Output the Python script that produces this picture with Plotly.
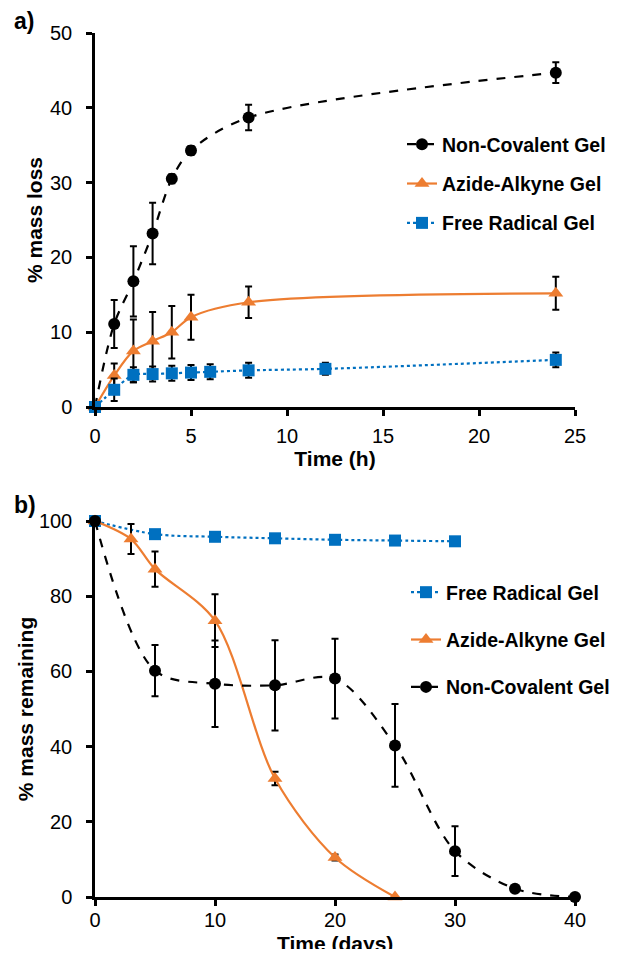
import plotly.graph_objects as go
from plotly.subplots import make_subplots

# ---- Panel a) % mass loss vs time (h)
t_h_nc = [0, 1, 2, 3, 4, 5, 8, 24]
nc_loss = [0, 11.1, 16.8, 23.2, 30.5, 34.3, 38.7, 44.7]
nc_loss_err = [None, 3.2, 4.7, 4.1, 0.6, 0.6, 1.7, 1.4]

t_h_aa = [0, 1, 2, 3, 4, 5, 8, 24]
aa_loss = [0, 4.2, 7.5, 8.8, 10.0, 12.0, 14.0, 15.2]
aa_loss_err = [None, 1.6, 4.2, 3.9, 3.5, 3.0, 2.1, 2.2]

t_h_fr = [0, 1, 2, 3, 4, 5, 6, 8, 12, 24]
fr_loss = [0, 2.3, 4.3, 4.4, 4.5, 4.6, 4.7, 4.9, 5.1, 6.3]
fr_loss_err = [None, 1.5, 1.0, 1.0, 1.0, 1.0, 1.0, 1.0, 0.8, 1.0]

# ---- Panel b) % mass remaining vs time (days)
t_d_fr = [0, 5, 10, 15, 20, 25, 30]
fr_rem = [100, 96.5, 95.8, 95.4, 95.0, 94.8, 94.6]

t_d_aa = [0, 3, 5, 10, 15, 20, 25]
aa_rem = [100, 95.2, 87.2, 73.5, 31.5, 10.5, 0]
aa_rem_err = [None, 4.0, 4.7, 7.0, 1.8, 0.8, None]

t_d_nc = [0, 5, 10, 15, 20, 25, 30, 35, 40]
nc_rem = [100, 60.2, 56.7, 56.3, 58.1, 40.3, 12.2, 2.2, 0]
nc_rem_err = [None, 6.8, 11.5, 12.0, 10.6, 11.0, 6.6, None, None]

x_ticks_a = [0, 5, 10, 15, 20, 25]
y_ticks_a = [0, 10, 20, 30, 40, 50]
x_ticks_b = [0, 10, 20, 30, 40]
y_ticks_b = [0, 20, 40, 60, 80, 100]

NAMES = ["Non-Covalent Gel", "Azide-Alkyne Gel", "Free Radical Gel"]
BLACK = "#000000"
ORANGE = "#ED7D31"
BLUE = "#0070C0"
FONT = "Liberation Sans, Arial, sans-serif"

fig = make_subplots(rows=2, cols=1, vertical_spacing=0.0)


def err(vals):
    return dict(type="data", array=vals, visible=True, color="black",
                thickness=2, width=3.5)


def add(x, y, e, name, color, dash, symbol, size, row, legend, group):
    fig.add_trace(go.Scatter(
        x=x, y=y, name="<b>" + name + "</b>", mode="lines+markers",
        line=dict(color=color, width=2.2, dash=dash, shape="spline", smoothing=0.9),
        marker=dict(color=color, symbol=symbol, size=size),
        error_y=err(e) if e is not None else None,
        legend=legend, legendgroup=group, cliponaxis=False,
    ), row=row, col=1)


add(t_h_nc, nc_loss, nc_loss_err, NAMES[0], BLACK, "dash", "circle", 12, 1, "legend", "a1")
add(t_h_aa, aa_loss, aa_loss_err, NAMES[1], ORANGE, "solid", "triangle-up", 13, 1, "legend", "a2")
add(t_h_fr, fr_loss, fr_loss_err, NAMES[2], BLUE, "dot", "square", 12, 1, "legend", "a3")

add(t_d_fr, fr_rem, None, NAMES[2], BLUE, "dot", "square", 12, 2, "legend2", "b1")
add(t_d_aa, aa_rem, aa_rem_err, NAMES[1], ORANGE, "solid", "triangle-up", 13, 2, "legend2", "b2")
add(t_d_nc, nc_rem, nc_rem_err, NAMES[0], BLACK, "dash", "circle", 12, 2, "legend2", "b3")

# The page body has an 8px margin, so the figure is sized to fit the window
# without scrollbars and all pixel positions are page positions minus 8.
W, H = 602, 941
left_px, right_px = 87, 567
top_px, a_bot_px, b_top_px, bot_px = 25, 399, 513, 889
span = bot_px - top_px
wspan = right_px - left_px


def frac(px):
    return (bot_px - px) / span


def xfrac(px):
    return (px - left_px) / wspan


axis_common = dict(showline=True, linecolor="black", linewidth=2.5,
                   ticks="outside", tickcolor="black", tickwidth=2.5, ticklen=6,
                   showgrid=False, zeroline=False,
                   tickfont=dict(family=FONT, size=20, color="black"))

fig.update_xaxes(**axis_common, ticklabelstandoff=3)
fig.update_yaxes(**axis_common, ticklabelstandoff=10)

TF = dict(family=FONT, size=21, color="black")
fig.update_layout(
    xaxis=dict(range=[0, 25], tickvals=x_ticks_a,
               title=dict(text="<b>Time (h)</b>", font=TF, standoff=6)),
    yaxis=dict(range=[0, 50], tickvals=y_ticks_a, domain=[frac(a_bot_px), 1],
               title=dict(text="<b>% mass loss</b>", font=TF, standoff=2)),
    xaxis2=dict(range=[0, 40], tickvals=x_ticks_b, ticklabelstandoff=-3),
    yaxis2=dict(range=[0, 100], tickvals=y_ticks_b, domain=[0, frac(b_top_px)],
                title=dict(text="<b>% mass remaining</b>", font=TF, standoff=0)),
)

LF = dict(family=FONT, size=19.5, color="black")
fig.update_layout(
    width=W, height=H,
    margin=dict(l=left_px, r=W - right_px, t=top_px, b=H - bot_px, autoexpand=False),
    paper_bgcolor="white", plot_bgcolor="white",
    font=dict(family=FONT, color="black"),
    legend=dict(x=xfrac(394), y=frac(117), xanchor="left", yanchor="top",
                font=LF, tracegroupgap=11, bgcolor="rgba(0,0,0,0)"),
    legend2=dict(x=xfrac(398), y=frac(565), xanchor="left", yanchor="top",
                 font=LF, tracegroupgap=19, bgcolor="rgba(0,0,0,0)"),
)

fig.add_annotation(text="<b>Time (days)</b>", xref="paper", yref="paper",
                   x=0.5, y=frac(935), showarrow=False, xanchor="center", yanchor="middle",
                   font=TF)
fig.add_annotation(text="<b>a)</b>", xref="paper", yref="paper",
                   x=xfrac(4), y=frac(13), showarrow=False, xanchor="left", yanchor="middle",
                   font=dict(family=FONT, size=23, color="black"))
fig.add_annotation(text="<b>b)</b>", xref="paper", yref="paper",
                   x=xfrac(4), y=frac(497), showarrow=False, xanchor="left", yanchor="middle",
                   font=dict(family=FONT, size=23, color="black"))

fig.write_html("out.html")
